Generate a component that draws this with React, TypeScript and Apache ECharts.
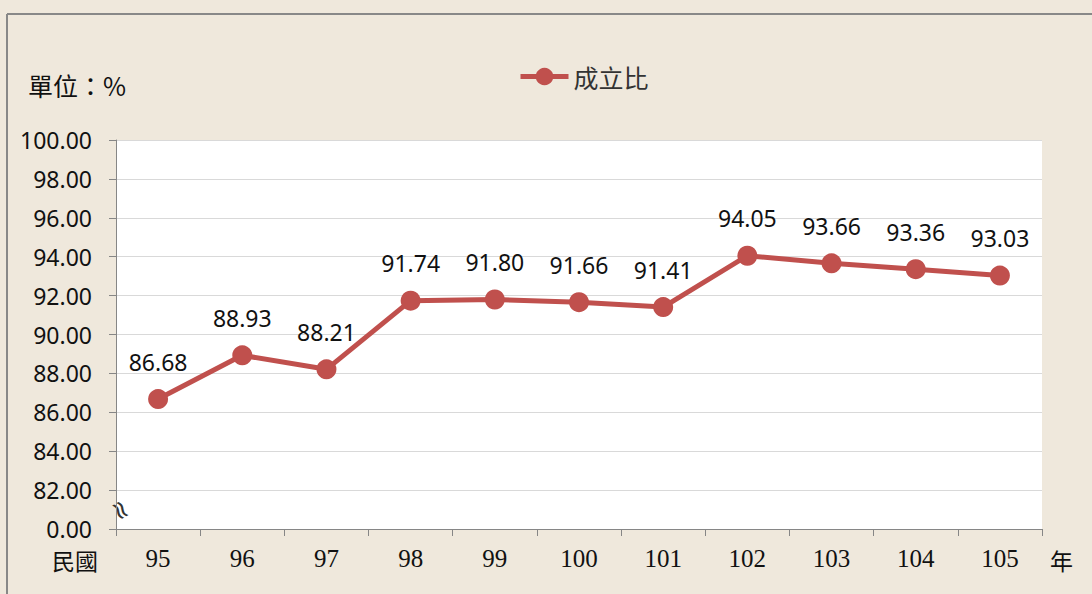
import React, { useEffect, useRef } from "react";
import * as echarts from "echarts";

const categories = ["95", "96", "97", "98", "99", "100", "101", "102", "103", "104", "105"];
const values = [86.68, 88.93, 88.21, 91.74, 91.8, 91.66, 91.41, 94.05, 93.66, 93.36, 93.03];
const seriesName = "成立比";
const unitLabel = "單位：%";
const xPrefix = "民國";
const xSuffix = "年";

export default function App() {
  const ref = useRef<HTMLDivElement>(null);
  useEffect(() => {
    if (!ref.current) return;
    const chart = echarts.init(ref.current, undefined, { renderer: "svg" });
    chart.setOption({
      animation: false,
      backgroundColor: "#EFE8DC",
      legend: {
        top: 59,
        left: 513,
        itemWidth: 48,
        itemHeight: 22,
        itemGap: 6,
        lineStyle: { width: 5 },
        textStyle: { fontFamily: "Noto Sans CJK TC", fontSize: 25, color: "#333" },
        data: [seriesName],
      },
      grid: {
        left: 116,
        top: 140,
        width: 926,
        height: 389,
        show: true,
        backgroundColor: "#ffffff",
        borderWidth: 0,
      },
      xAxis: {
        type: "category",
        data: categories,
        boundaryGap: true,
        axisLine: { lineStyle: { color: "#868686", width: 1 } },
        axisTick: { show: true, length: 7, lineStyle: { color: "#868686" } },
        axisLabel: {
          fontFamily: "Liberation Serif",
          fontSize: 25,
          color: "#111",
          margin: 17,
        },
      },
      yAxis: {
        type: "value",
        min: 80,
        max: 100,
        interval: 2,
        axisLine: { show: true, lineStyle: { color: "#868686", width: 1 } },
        axisTick: { show: true, length: 7, lineStyle: { color: "#868686" } },
        splitLine: { lineStyle: { color: "#D9D9D9", width: 1 } },
        axisLabel: {
          fontFamily: "Noto Sans",
          fontSize: 23,
          lineHeight: 24,
          color: "#111",
          margin: 24,
          formatter: (v: number) => (v === 80 ? "0.00" : v.toFixed(2)),
        },
      },
      series: [
        {
          name: seriesName,
          type: "line",
          data: values,
          symbol: "circle",
          symbolSize: 20,
          itemStyle: { color: "#C0504D" },
          lineStyle: { color: "#C0504D", width: 5 },
          label: {
            show: true,
            position: "top",
            distance: 16,
            fontFamily: "Noto Sans",
            fontSize: 23,
            color: "#111",
            formatter: (p: any) => p.value.toFixed(2),
          },
        },
      ],
      graphic: [
        { type: "line", shape: { x1: 7, y1: 14, x2: 1092, y2: 14 }, style: { stroke: "#888", lineWidth: 2 } },
        { type: "line", shape: { x1: 7, y1: 14, x2: 7, y2: 594 }, style: { stroke: "#888", lineWidth: 2 } },
        {
          type: "text",
          left: 28,
          top: 72,
          style: { text: unitLabel, fontFamily: "Noto Sans CJK TC", fontSize: 25, fill: "#111" },
        },
        {
          type: "text",
          left: 52,
          top: 548,
          style: { text: xPrefix, fontFamily: "Noto Sans CJK TC", fontSize: 23, lineHeight: 24, fill: "#111" },
        },
        {
          type: "text",
          left: 1050,
          top: 548,
          style: { text: xSuffix, fontFamily: "Noto Sans CJK TC", fontSize: 23, lineHeight: 24, fill: "#111" },
        },
        {
          type: "text",
          x: 121,
          y: 510,
          rotation: -Math.PI / 3,
          style: {
            text: "≈",
            fontFamily: "DejaVu Sans",
            fontSize: 26,
            fill: "#333",
            align: "center",
            verticalAlign: "middle",
          },
        },
      ],
    });
    return () => chart.dispose();
  }, []);
  return <div ref={ref} style={{ position: "fixed", left: 0, top: 0, width: 1092, height: 594 }} />;
}
